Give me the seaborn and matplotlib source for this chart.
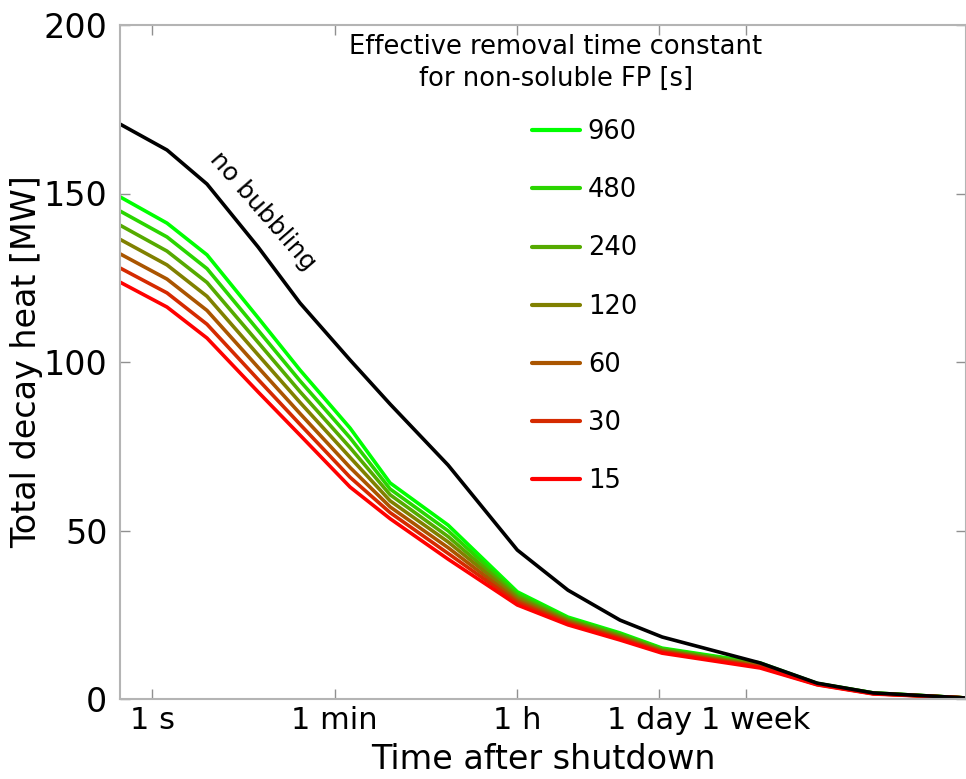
import matplotlib
matplotlib.use("Agg")
import matplotlib.pyplot as plt
import matplotlib.transforms as mtransforms
import numpy as np
import pandas as pd
import seaborn as sns
from matplotlib.lines import Line2D

# Time after shutdown [s]
time_s = [0.488, 1.40, 3.43, 10.8, 27.6, 84.7, 208, 763, 3600, 11200,
          36000, 92500, 832000, 2.99e6, 1.05e7, 8.4e7]

# Total decay heat [MW]
no_bubbling = [170.6, 162.9, 152.8, 134.1, 117.5, 100.6, 87.5, 69.4, 44.2, 32.3,
               23.4, 18.4, 10.7, 4.7, 1.8, 0.3]
tau_960 = [149.0, 141.2, 131.8, 113.1, 97.6, 80.4, 64.1, 51.6, 31.8, 24.3,
           19.6, 15.1, 10.7, 4.6, 1.8, 0.3]
tau_480 = [144.8, 137.1, 127.7, 109.4, 94.4, 77.5, 62.3, 49.9, 31.2, 23.9,
           19.3, 14.9, 10.5, 4.6, 1.8, 0.3]
tau_240 = [140.6, 132.9, 123.6, 105.8, 91.2, 74.6, 60.6, 48.2, 30.5, 23.5,
           18.9, 14.6, 10.2, 4.5, 1.7, 0.3]
tau_120 = [136.4, 128.8, 119.5, 102.1, 88.0, 71.7, 58.8, 46.6, 29.9, 23.2,
           18.6, 14.4, 10.0, 4.5, 1.7, 0.3]
tau_60 = [132.1, 124.6, 115.3, 98.4, 84.7, 68.7, 57.0, 44.9, 29.2, 22.8,
          18.2, 14.1, 9.7, 4.4, 1.6, 0.3]
tau_30 = [127.9, 120.5, 111.2, 94.8, 81.5, 65.8, 55.3, 43.2, 28.6, 22.4,
          17.9, 13.9, 9.5, 4.3, 1.6, 0.3]
tau_15 = [123.7, 116.3, 107.1, 91.1, 78.3, 62.9, 53.5, 41.5, 27.9, 22.0,
          17.5, 13.6, 9.2, 4.2, 1.5, 0.3]

tau_labels = ["960", "480", "240", "120", "60", "30", "15"]
tau_series = [tau_960, tau_480, tau_240, tau_120, tau_60, tau_30, tau_15]
tau_colors = ["#00ff00", "#2ad500", "#55aa00", "#808000", "#aa5500", "#d52a00", "#ff0000"]

tick_pos = [1, 60, 3600, 86400, 604800]
tick_labels = ["1 s", "1 min", "1 h", "1 day", "1 week"]

sns.set_style("ticks")
plt.rcParams["font.family"] = ["DejaVu Sans"]
plt.rcParams["text.color"] = "black"
plt.rcParams["axes.labelcolor"] = "black"
plt.rcParams["xtick.labelcolor"] = "black"
plt.rcParams["ytick.labelcolor"] = "black"

rows = []
for lab, vals in zip(tau_labels, tau_series):
    for t, v in zip(time_s, vals):
        rows.append({"time": t, "heat": v, "tau": lab})
df = pd.DataFrame(rows)
df_ref = pd.DataFrame({"time": time_s, "heat": no_bubbling})

fig = plt.figure(figsize=(9.66, 7.79), dpi=100)
ax = fig.add_axes([120 / 966, 1 - 699 / 779, 846 / 966, 674 / 779])

sns.lineplot(data=df, x="time", y="heat", hue="tau", hue_order=tau_labels,
             palette=tau_colors, linewidth=2.6, legend=False, ax=ax, sort=False)
sns.lineplot(data=df_ref, x="time", y="heat", color="black", linewidth=2.6,
             legend=False, ax=ax, sort=False)

ax.set_xscale("log")
ax.set_xlim(time_s[0], time_s[-1])
ax.set_ylim(0, 200)
ax.set_xticks(tick_pos)
ax.set_xticklabels(tick_labels)
ax.xaxis.set_minor_locator(matplotlib.ticker.NullLocator())
ax.set_yticks([0, 50, 100, 150, 200])

for s in ax.spines.values():
    s.set_visible(True)
    s.set_color("#b4b4b4")
    s.set_linewidth(1.5)
ax.tick_params(axis="both", which="major", direction="in", length=7.5, width=1,
               color="#909090", top=True, right=True)
ax.tick_params(axis="x", pad=5, labelsize=22)
ax.tick_params(axis="y", pad=9, labelsize=24)

# Spread the two crowded labels on the right apart
shifts = {"1 day": -10, "1 week": 10}
for lbl in ax.get_xticklabels():
    dx = shifts.get(lbl.get_text(), 0)
    if dx:
        lbl.set_transform(lbl.get_transform() +
                          mtransforms.ScaledTranslation(dx / 100, 0, fig.dpi_scale_trans))

ax.set_xlabel("Time after shutdown", fontsize=24, labelpad=6)
ax.set_ylabel("Total decay heat [MW]", fontsize=24, labelpad=0)

# Curve annotation for the reference case
ax.text(263, 779 - 211, "no bubbling", transform=None, fontsize=18, rotation=-49,
        ha="center", va="center", rotation_mode="anchor")

# Legend with a separately placed two-line heading
fig.text(556 / 966, 1 - 63 / 779, "Effective removal time constant\nfor non-soluble FP [s]",
         ha="center", va="center", fontsize=18.5, linespacing=1.32)
handles = [Line2D([], [], color=c, linewidth=3) for c in tau_colors]
fig.legend(handles, tau_labels, loc="upper left",
           bbox_to_anchor=(532 / 966, 1 - 119 / 779), frameon=False,
           fontsize=18.5, handlelength=1.87, handletextpad=0.3, labelspacing=1.255,
           borderpad=0, borderaxespad=0)

fig.savefig("out.png", dpi=100)
